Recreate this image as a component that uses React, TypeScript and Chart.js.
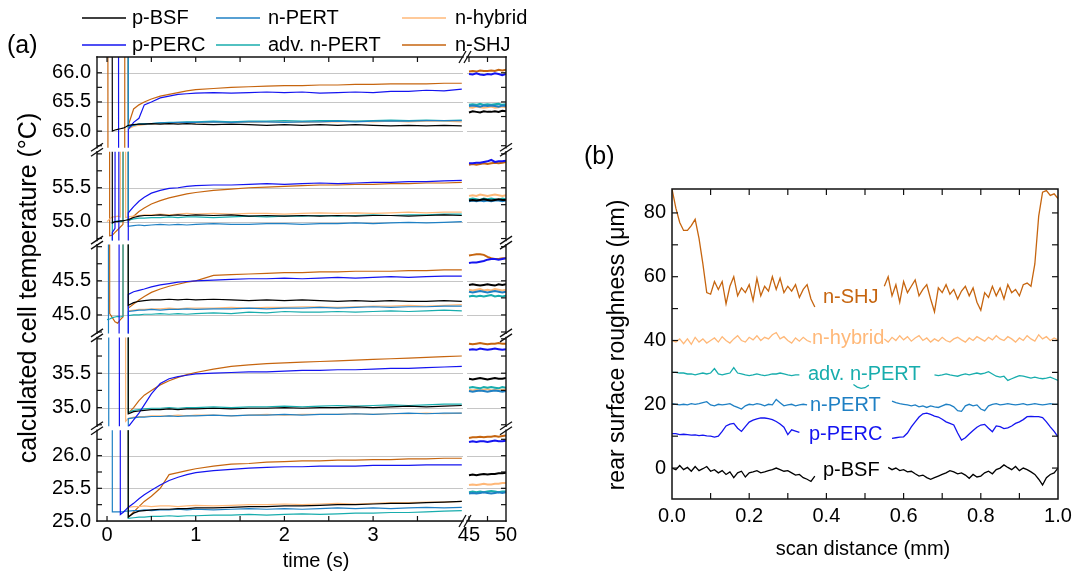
import React, { useEffect, useRef } from "react";
import { Chart, registerables } from "chart.js";

Chart.register(...registerables);

const FONT = '"Liberation Sans", Arial, Helvetica, sans-serif';
const H = 99; // reading above the visible window of a segment
const L = 0; // reading below the visible window of a segment
const N = null;

// ---------------- panel (a): time axes ----------------
const timeFast = [0, 0.03, 0.06, 0.09, 0.12, 0.15, 0.18, 0.21, 0.24,
  0.3, 0.36, 0.42, 0.5, 0.6, 0.7, 0.8, 0.9, 1.0,
  1.2, 1.4, 1.6, 1.8, 2.0, 2.2, 2.4, 2.6, 2.8, 3.0, 3.2, 3.4, 3.6, 3.8, 4.0];
const timeSlow = [45, 45.5, 46, 46.5, 47, 47.5, 48, 48.5, 49, 49.5, 50];

// p-BSF
const bsf65 = [H, H, 65.0, 65.02, 65.03, 65.04, 65.05, 65.07, 65.1,
  65.11, 65.12, 65.12, 65.13, 65.12, 65.13, 65.12, 65.13, 65.12,
  65.11, 65.12, 65.11, 65.1, 65.11, 65.1, 65.11, 65.1, 65.11, 65.1, 65.09, 65.1, 65.09, 65.1, 65.09];
const bsf55 = [H, H, 54.98, 55.0, 55.0, 55.01, 55.01, 55.02, 55.03,
  55.06, 55.08, 55.09, 55.09, 55.1, 55.09, 55.1, 55.09, 55.1,
  55.09, 55.1, 55.08, 55.09, 55.08, 55.09, 55.08, 55.09, 55.08, 55.09, 55.09, 55.08, 55.09, 55.1, 55.09];
const bsf45 = [H, H, H, H, H, H, H, H, 45.14,
  45.18, 45.2, 45.21, 45.22, 45.22, 45.23, 45.22, 45.23, 45.22,
  45.23, 45.22, 45.21, 45.22, 45.21, 45.22, 45.21, 45.2, 45.21, 45.2, 45.21, 45.2, 45.2, 45.21, 45.2];
const bsf35 = [H, H, H, H, H, H, H, H, 34.91,
  34.94, 34.95, 34.96, 34.97, 34.97, 34.98, 34.97, 34.98, 34.98,
  34.99, 34.98, 34.99, 34.99, 35.0, 34.99, 35.0, 35.0, 35.01, 35.0, 35.01, 35.02, 35.01, 35.02, 35.03];
const bsf25 = [H, H, H, H, H, H, H, H, 25.06,
  25.12, 25.15, 25.16, 25.17, 25.18, 25.18, 25.19, 25.19, 25.2,
  25.2, 25.21, 25.22, 25.22, 25.23, 25.23, 25.24, 25.25, 25.25, 25.26, 25.27, 25.27, 25.28, 25.29, 25.3];

// p-PERC
const perc65 = [H, H, H, H, H, L, L, L, 65.03,
  65.15, 65.22, 65.45, 65.5, 65.57, 65.6, 65.63, 65.64, 65.65,
  65.66, 65.65, 65.66, 65.67, 65.66, 65.67, 65.65, 65.66, 65.67, 65.66, 65.68, 65.68, 65.7, 65.69, 65.72];
const perc55 = [L, L, 54.84, 54.9, H, L, L, L, 55.13,
  55.22, 55.3, 55.36, 55.42, 55.46, 55.49, 55.5, 55.52, 55.53,
  55.54, 55.54, 55.55, 55.56, 55.55, 55.56, 55.57, 55.56, 55.57, 55.58, 55.58, 55.59, 55.59, 55.6, 55.61];
const perc45 = [H, H, H, H, H, L, L, L, 45.3,
  45.34, 45.36, 45.38, 45.41, 45.44, 45.46, 45.48, 45.49, 45.5,
  45.51, 45.52, 45.53, 45.53, 45.54, 45.53, 45.54, 45.55, 45.54, 45.55, 45.56, 45.55, 45.56, 45.57, 45.57];
const perc35 = [H, H, H, H, H, L, L, L, 34.72,
  34.82, 34.92, 35.04, 35.2, 35.35, 35.42, 35.45, 35.47, 35.49,
  35.5, 35.51, 35.52, 35.52, 35.53, 35.54, 35.54, 35.55, 35.55, 35.56, 35.57, 35.57, 35.58, 35.59, 35.6];
const perc25 = [H, H, H, H, H, 25.1, 25.13, 25.17, 25.21,
  25.27, 25.34, 25.4, 25.47, 25.55, 25.62, 25.67, 25.71, 25.74,
  25.77, 25.79, 25.81, 25.82, 25.83, 25.83, 25.84, 25.84, 25.84, 25.85, 25.85, 25.85, 25.86, 25.86, 25.86];

// n-PERT
const npert65 = [H, H, H, H, H, H, H, H, 65.08,
  65.1, 65.12, 65.12, 65.13, 65.14, 65.14, 65.15, 65.15, 65.15,
  65.16, 65.15, 65.16, 65.16, 65.15, 65.16, 65.16, 65.17, 65.16, 65.17, 65.17, 65.17, 65.18, 65.18, 65.18];
const npert55 = [H, H, H, H, H, H, H, H, 54.93,
  54.94, 54.95, 54.94, 54.95, 54.96, 54.95, 54.96, 54.95, 54.96,
  54.97, 54.96, 54.96, 54.97, 54.97, 54.96, 54.97, 54.97, 54.98, 54.97, 54.98, 54.99, 54.98, 54.99, 55.0];
const npert45 = [H, L, L, L, L, L, L, L, 45.05,
  45.06, 45.07, 45.07, 45.08, 45.07, 45.08, 45.08, 45.09, 45.08,
  45.09, 45.09, 45.1, 45.09, 45.1, 45.1, 45.11, 45.1, 45.11, 45.12, 45.11, 45.12, 45.12, 45.13, 45.13];
const npert35 = [H, L, L, L, L, L, L, L, 34.84,
  34.85, 34.86, 34.86, 34.87, 34.87, 34.88, 34.87, 34.88, 34.88,
  34.89, 34.88, 34.89, 34.89, 34.9, 34.89, 34.9, 34.9, 34.91, 34.9, 34.91, 34.92, 34.91, 34.92, 34.92];
const npert25 = [H, H, 25.14, 25.14, 25.14, 25.14, 25.14, 25.15, 25.15,
  25.16, 25.16, 25.17, 25.16, 25.17, 25.17, 25.18, 25.17, 25.18,
  25.17, 25.18, 25.19, 25.18, 25.19, 25.18, 25.19, 25.2, 25.19, 25.2, 25.19, 25.2, 25.21, 25.2, 25.21];

// adv. n-PERT
const adv65 = [H, H, H, H, H, H, H, H, 65.06,
  65.1, 65.12, 65.13, 65.13, 65.14, 65.15, 65.15, 65.16, 65.16,
  65.17, 65.16, 65.17, 65.17, 65.18, 65.17, 65.18, 65.18, 65.17, 65.18, 65.19, 65.18, 65.19, 65.18, 65.19];
const adv55 = [L, L, 54.99, 55.0, 55.01, 55.0, 55.01, H, 55.02,
  55.04, 55.05, 55.05, 55.06, 55.06, 55.07, 55.06, 55.07, 55.07,
  55.06, 55.07, 55.08, 55.07, 55.08, 55.08, 55.09, 55.08, 55.09, 55.1, 55.09, 55.1, 55.1, 55.11, 55.11];
const adv45 = [44.93, 44.94, 44.96, 44.97, 44.98, 44.97, 44.98, H, 44.99,
  45.0, 45.0, 45.01, 45.01, 45.02, 45.01, 45.02, 45.01, 45.02,
  45.03, 45.02, 45.04, 45.03, 45.05, 45.04, 45.04, 45.05, 45.04, 45.05, 45.06, 45.05, 45.06, 45.07, 45.06];
const adv35 = [H, H, H, H, H, H, H, H, 34.93,
  34.96, 34.97, 34.98, 34.99, 34.99, 35.0, 34.99, 35.0, 35.0,
  35.01, 35.0, 35.01, 35.01, 35.02, 35.01, 35.02, 35.03, 35.02, 35.03, 35.04, 35.03, 35.04, 35.05, 35.05];
const adv25 = [H, H, H, H, H, H, H, H, 25.04,
  25.05, 25.06, 25.06, 25.07, 25.07, 25.08, 25.07, 25.08, 25.08,
  25.09, 25.09, 25.1, 25.09, 25.1, 25.11, 25.1, 25.11, 25.12, 25.12, 25.13, 25.13, 25.14, 25.15, 25.16];

// n-hybrid
const hyb65 = [H, H, H, H, H, H, H, H, 65.04,
  65.08, 65.1, 65.11, 65.12, 65.13, 65.13, 65.14, 65.14, 65.14,
  65.15, 65.15, 65.15, 65.16, 65.16, 65.15, 65.16, 65.16, 65.17, 65.16, 65.17, 65.16, 65.17, 65.17, 65.16];
const hyb55 = [55.0, 55.04, 55.07, 55.07, 55.08, 55.07, H, 55.06, 55.07,
  55.08, 55.09, 55.1, 55.1, 55.11, 55.1, 55.11, 55.12, 55.11,
  55.12, 55.11, 55.12, 55.12, 55.11, 55.12, 55.13, 55.12, 55.13, 55.12, 55.13, 55.14, 55.13, 55.14, 55.14];
const hyb45 = [H, H, H, H, H, H, H, H, 45.06,
  45.07, 45.08, 45.08, 45.09, 45.09, 45.1, 45.09, 45.1, 45.1,
  45.1, 45.11, 45.1, 45.11, 45.11, 45.12, 45.12, 45.11, 45.12, 45.13, 45.13, 45.14, 45.13, 45.14, 45.15];
const hyb35 = [H, H, H, H, H, H, H, 34.8, 34.84,
  34.86, 34.87, 34.87, 34.88, 34.88, 34.88, 34.89, 34.88, 34.89,
  34.89, 34.88, 34.89, 34.9, 34.89, 34.9, 34.9, 34.9, 34.91, 34.9, 34.91, 34.91, 34.92, 34.91, 34.92];
const hyb25 = [H, H, H, H, H, H, H, H, 25.21,
  25.22, 25.22, 25.23, 25.22, 25.23, 25.23, 25.22, 25.23, 25.24,
  25.23, 25.24, 25.25, 25.25, 25.26, 25.25, 25.26, 25.27, 25.26, 25.27, 25.28, 25.28, 25.29, 25.29, 25.3];

// n-SHJ
const shj65 = [H, L, L, L, L, L, L, H, 65.1,
  65.38, 65.45, 65.5, 65.55, 65.6, 65.63, 65.66, 65.69, 65.71,
  65.73, 65.75, 65.76, 65.77, 65.78, 65.78, 65.79, 65.79, 65.8, 65.8, 65.81, 65.81, 65.81, 65.82, 65.82];
const shj55 = [H, 54.79, 54.8, 54.84, 54.88, 54.92, 54.96, H, 55.0,
  55.08, 55.15, 55.2, 55.26, 55.31, 55.35, 55.38, 55.41, 55.43,
  55.46, 55.48, 55.5, 55.51, 55.52, 55.53, 55.54, 55.54, 55.55, 55.55, 55.56, 55.56, 55.57, 55.57, 55.58];
const shj45 = [H, 45.02, 44.96, 44.9, 44.88, 44.93, 44.97, H, 45.1,
  45.16, 45.22, 45.27, 45.33, 45.38, 45.42, 45.45, 45.48, 45.5,
  45.58, 45.59, 45.6, 45.61, 45.62, 45.62, 45.63, 45.63, 45.64, 45.64, 45.64, 45.65, 45.65, 45.66, 45.66];
const shj35 = [H, H, H, H, H, H, H, H, 34.92,
  35.0, 35.1, 35.18, 35.25, 35.33, 35.39, 35.44, 35.48, 35.51,
  35.56, 35.6, 35.62, 35.64, 35.65, 35.66, 35.67, 35.68, 35.69, 35.7, 35.71, 35.72, 35.73, 35.74, 35.75];
const shj25 = [H, H, H, H, H, H, H, H, 25.06,
  25.14, 25.22, 25.3, 25.38, 25.5, 25.71, 25.74, 25.77, 25.8,
  25.84, 25.87, 25.88, 25.9, 25.91, 25.92, 25.92, 25.93, 25.93, 25.94, 25.94, 25.95, 25.95, 25.96, 25.96];

// late readings, 45 s - 50 s
const bsfR65 = [65.32, 65.34, 65.33, 65.32, 65.34, 65.33, 65.33, 65.34, 65.33, 65.35, 65.34];
const bsfR55 = [55.31, 55.32, 55.31, 55.32, 55.33, 55.32, 55.31, 55.32, 55.33, 55.32, 55.32];
const bsfR45 = [45.44, 45.45, 45.44, 45.43, 45.44, 45.45, 45.44, 45.43, 45.45, 45.44, 45.45];
const bsfR35 = [35.42, 35.41, 35.42, 35.43, 35.42, 35.41, 35.42, 35.43, 35.42, 35.42, 35.43];
const bsfR25 = [25.7, 25.71, 25.7, 25.71, 25.72, 25.71, 25.72, 25.72, 25.73, 25.73, 25.74];
const percR65 = [65.98, 65.97, 65.99, 65.97, 65.96, 65.98, 65.97, 65.99, 65.98, 65.96, 65.98];
const percR55 = [55.86, 55.86, 55.87, 55.87, 55.88, 55.89, 55.91, 55.88, 55.89, 55.89, 55.9];
const percR45 = [45.76, 45.77, 45.77, 45.78, 45.79, 45.81, 45.82, 45.82, 45.81, 45.82, 45.83];
const percR35 = [35.84, 35.85, 35.84, 35.86, 35.85, 35.84, 35.85, 35.86, 35.85, 35.84, 35.85];
const percR25 = [26.21, 26.22, 26.21, 26.22, 26.22, 26.21, 26.22, 26.23, 26.22, 26.22, 26.23];
const npertR65 = [65.43, 65.44, 65.43, 65.42, 65.44, 65.43, 65.44, 65.43, 65.42, 65.44, 65.43];
const npertR55 = [55.3, 55.31, 55.3, 55.31, 55.3, 55.31, 55.3, 55.31, 55.31, 55.3, 55.31];
const npertR45 = [45.34, 45.33, 45.34, 45.35, 45.34, 45.33, 45.34, 45.35, 45.34, 45.33, 45.34];
const npertR35 = [35.24, 35.23, 35.24, 35.25, 35.24, 35.23, 35.24, 35.25, 35.24, 35.23, 35.24];
const npertR25 = [25.42, 25.43, 25.42, 25.43, 25.44, 25.43, 25.42, 25.43, 25.44, 25.43, 25.44];
const advR65 = [65.45, 65.46, 65.45, 65.47, 65.45, 65.46, 65.45, 65.46, 65.47, 65.45, 65.46];
const advR55 = [55.33, 55.34, 55.33, 55.32, 55.34, 55.33, 55.34, 55.33, 55.32, 55.34, 55.33];
const advR45 = [45.27, 45.28, 45.27, 45.28, 45.27, 45.28, 45.29, 45.27, 45.28, 45.27, 45.28];
const advR35 = [35.29, 35.3, 35.29, 35.28, 35.3, 35.29, 35.3, 35.29, 35.28, 35.3, 35.29];
const advR25 = [25.44, 25.45, 25.44, 25.45, 25.44, 25.45, 25.46, 25.45, 25.44, 25.45, 25.45];
const hybR65 = [65.41, 65.4, 65.42, 65.41, 65.4, 65.41, 65.42, 65.4, 65.41, 65.42, 65.41];
const hybR55 = [55.38, 55.39, 55.38, 55.4, 55.39, 55.38, 55.39, 55.4, 55.39, 55.38, 55.39];
const hybR45 = [45.37, 45.36, 45.37, 45.38, 45.36, 45.37, 45.36, 45.38, 45.37, 45.36, 45.37];
const hybR35 = [35.26, 35.25, 35.26, 35.25, 35.26, 35.27, 35.25, 35.26, 35.25, 35.26, 35.26];
const hybR25 = [25.55, 25.56, 25.55, 25.56, 25.57, 25.56, 25.56, 25.57, 25.57, 25.58, 25.58];
const shjR65 = [66.02, 66.03, 66.02, 66.04, 66.03, 66.03, 66.04, 66.03, 66.05, 66.04, 66.05];
const shjR55 = [55.84, 55.85, 55.84, 55.85, 55.86, 55.85, 55.86, 55.87, 55.86, 55.87, 55.88];
const shjR45 = [45.87, 45.88, 45.89, 45.89, 45.88, 45.85, 45.83, 45.82, 45.82, 45.83, 45.83];
const shjR35 = [35.93, 35.92, 35.93, 35.94, 35.93, 35.92, 35.93, 35.93, 35.94, 35.93, 35.93];
const shjR25 = [26.27, 26.28, 26.28, 26.29, 26.28, 26.29, 26.29, 26.3, 26.29, 26.3, 26.31];

// ---------------- panel (b): roughness profiles ----------------
const scanX = [0, 0.01, 0.02, 0.03, 0.04, 0.05, 0.06, 0.07, 0.08, 0.09,
  0.1, 0.11, 0.12, 0.13, 0.14, 0.15, 0.16, 0.17, 0.18, 0.19,
  0.2, 0.21, 0.22, 0.23, 0.24, 0.25, 0.26, 0.27, 0.28, 0.29,
  0.3, 0.31, 0.32, 0.33, 0.34, 0.35, 0.36, 0.37, 0.38, 0.39,
  0.4, 0.41, 0.42, 0.43, 0.44, 0.45, 0.46, 0.47, 0.48, 0.49,
  0.5, 0.51, 0.52, 0.53, 0.54, 0.55, 0.56, 0.57, 0.58, 0.59,
  0.6, 0.61, 0.62, 0.63, 0.64, 0.65, 0.66, 0.67, 0.68, 0.69,
  0.7, 0.71, 0.72, 0.73, 0.74, 0.75, 0.76, 0.77, 0.78, 0.79,
  0.8, 0.81, 0.82, 0.83, 0.84, 0.85, 0.86, 0.87, 0.88, 0.89,
  0.9, 0.91, 0.92, 0.93, 0.94, 0.95, 0.96, 0.97, 0.98, 0.99,
  1.0];
const roughSHJ = [87.5, 81.5, 77, 74.5, 74.5, 76, 78, 72, 64, 55,
  54.5, 58.5, 56, 58.5, 51.5, 57, 60, 54, 56.5, 55,
  57.5, 52.5, 59.5, 54, 57, 55.5, 60, 56, 59.5, 55,
  57, 55.5, 57.5, 53.5, 56, 57.5, 53, 50.5, N, N,
  N, N, N, N, N, N, N, N, N, N,
  N, N, N, N, N, 57, 60, 54, 57.5, 52,
  58.5, 55, 57, 59, 54, 56, 57.5, 53, 49, 56.5,
  55, 57.5, 54.5, 56, 53, 55.5, 57, 54, 56.5, 52,
  49.5, 55, 53.5, 57, 54, 56.5, 53, 57.5, 55, 56,
  54, 57.5, 58, 57, 64, 79, 86.5, 87, 85.5, 86,
  84.5];
const roughHybrid = [40, 39.5, 40.5, 39, 40.5, 38.8, 41, 39.5, 40.5, 39.2,
  40, 40.8, 39.5, 41.2, 40, 39.2, 40.5, 41.5, 40, 39.5,
  41, 40.2, 41.5, 40, 41, 40.5, 41.8, 42.5, 40.5, 41.2,
  40, 39.2, 40.8, 39.8, 41, 40, 39.5, N, N, N,
  N, N, N, N, N, N, N, N, N, N,
  N, N, N, N, N, 40.5, 39.5, 41, 40, 41.5,
  40.2, 41.2, 39.8, 40.8, 41.5, 40, 40.8, 39.5, 40.5, 39.8,
  41, 40, 39.5, 40.5, 41, 40.2, 39.5, 40.8, 40, 41.2,
  40.5, 39.8, 41, 40.2, 41.5, 40.5, 40, 41.2, 40.5, 39.5,
  40.8, 40, 41.5, 40.5, 39.8, 41.8, 40.5, 41.2, 40, 40.8,
  40.2];
const roughAdvPERT = [30, 30, 29.8, 29.8, 29.5, 29.5, 29.2, 29.5, 29.8, 29.5,
  29.8, 31.2, 29.5, 29.2, 29.5, 29.8, 31.5, 29.8, 29.5, 29.2,
  29, 29.2, 29.5, 29.2, 29, 29.2, 29.5, 29.5, 29.8, 29.5,
  29.2, 29, 29.2, 29.2, N, N, N, N, N, N,
  N, N, N, N, N, N, N, 26.2, 25.4, 25,
  25.2, 26, N, N, N, N, N, N, N, N,
  N, N, N, N, N, N, N, N, 29.2, 29,
  29.2, 29.5, 29.2, 29, 28.8, 29.2, 29.5, 29.2, 29.5, 29.8,
  29.5, 29.8, 30.2, 29.5, 28.8, 28.5, 28.8, 27.5, 28, 28.5,
  29, 28.8, 28.5, 28.2, 28.5, 28.2, 28, 28.2, 28.5, 28,
  27.5];
const roughPERT = [20.2, 20, 19.8, 20, 19.8, 20.2, 20, 20.2, 20.5, 20.8,
  19.8, 19.5, 20, 19.8, 20, 20.2, 19.5, 19, 18.5, 19.5,
  20, 19.8, 20.2, 20, 19.5, 20, 19.8, 21.5, 20.5, 19.5,
  19.8, 20, 19.5, 19.8, 20, 19.8, N, N, N, N,
  N, N, N, N, N, N, N, N, N, N,
  N, N, N, N, N, N, N, 21, 20.5, 20.2,
  20, 19.8, 19.5, 19.8, 19.2, 19.5, 19, 19.5, 19.2, 19,
  19.5, 20, 19.8, 19.2, 18, 17.8, 19.5, 20, 19.5, 19.8,
  18.5, 18, 19.5, 20, 20.2, 19.8, 20, 20.2, 20, 19.8,
  20, 20.2, 19.8, 20, 20.2, 20, 19.8, 20, 20.2, 20,
  20];
const roughPERC = [10.8, 10.8, 10.5, 10.6, 10.5, 10.3, 10.4, 10.2, 10.3, 10.1,
  10, 9.7, 10, 11.5, 13.2, 13.8, 14, 12.5, 11.5, 13,
  14.4, 15, 15.4, 15.7, 15.7, 15.5, 15.2, 14.6, 13.8, 12.8,
  10.5, 12, 11.6, 11.2, N, N, N, N, N, N,
  N, N, N, N, N, N, N, N, N, N,
  N, N, N, N, N, N, N, 9.3, 9.5, 9.7,
  9.8, 11, 12.9, 14.5, 16, 17, 17.2, 16.8, 16.3, 16,
  15.3, 14.5, 14, 13.5, 11, 8.8, 9.5, 10.7, 11.8, 12.8,
  13.5, 13.7, 12.5, 11.4, 13.2, 13, 12.4, 12.6, 13.2, 14,
  14.5, 15.2, 16.1, 16.2, 16.1, 16.1, 15.8, 14.5, 12.9, 11.5,
  9.8];
const roughBSF = [0, -0.5, 0.8, -0.5, 0.2, -1, 0.5, -0.8, -0.2, 0.5,
  -1, -0.5, -1.5, -0.8, -2, -1.2, -3, -1.5, -1, -2.8,
  -1.5, -1.2, -0.8, -1.5, -1.2, -0.8, -0.5, 0, -0.5, -1,
  -0.8, -1.5, -2.2, -2, -3, -3.5, -4.2, -2.5, N, N,
  N, N, N, N, N, N, N, N, N, N,
  N, N, N, N, N, N, 0.2, -0.5, 0, -0.8,
  -0.5, -1.2, -1, -1.8, -2.5, -2.2, -3, -3.5, -3, -2.5,
  -2, -1.5, -0.8, -1.2, -1.8, -1.5, -2.2, -3.2, -2, -2.8,
  -2.5, -1.5, -1, -1.8, -0.5, 0, 1, 0.2, -0.5, 0.5,
  -0.8, 0, -0.5, -1.2, -2, -3.5, -5.3, -3, -2, -1.5,
  0];

// ---------------- series / axes ----------------
const SERIES = ["p-BSF", "p-PERC", "n-PERT", "adv. n-PERT", "n-hybrid", "n-SHJ"];
const COLORS = ["#000000", "#1414f0", "#1f80c4", "#18adad", "#ffb878", "#c6650f"];

const fastTraces = [
  [bsf65, bsf55, bsf45, bsf35, bsf25],
  [perc65, perc55, perc45, perc35, perc25],
  [npert65, npert55, npert45, npert35, npert25],
  [adv65, adv55, adv45, adv35, adv25],
  [hyb65, hyb55, hyb45, hyb35, hyb25],
  [shj65, shj55, shj45, shj35, shj25],
];
const slowTraces = [
  [bsfR65, bsfR55, bsfR45, bsfR35, bsfR25],
  [percR65, percR55, percR45, percR35, percR25],
  [npertR65, npertR55, npertR45, npertR35, npertR25],
  [advR65, advR55, advR45, advR35, advR25],
  [hybR65, hybR55, hybR45, hybR35, hybR25],
  [shjR65, shjR55, shjR45, shjR35, shjR25],
];
const roughTraces = [roughBSF, roughPERC, roughPERT, roughAdvPERT, roughHybrid, roughSHJ];

const segIds = ["y1", "y2", "y3", "y4", "y5"];
const segMin = [64.68, 54.69, 44.7, 34.7, 25.0];
const segMax = [66.27, 56.06, 46.06, 36.05, 26.42];
const segTickLabels = [[65.0, 65.5, 66.0], [55.0, 55.5], [45.0, 45.5], [35.0, 35.5], [25.0, 25.5, 26.0]];
const fastTickLabels = [0, 1, 2, 3];
const fastMinorTicks = [0.5, 1.5, 2.5, 3.5];
const slowTickLabels = [45, 50];
const slowMinorTicks = [47.5];
const scanTickLabels = [0, 0.2, 0.4, 0.6, 0.8, 1.0];
const scanMinorTicks = [0.1, 0.3, 0.5, 0.7, 0.9];
const roughTickLabels = [0, 20, 40, 60, 80];
const roughMinorTicks = [10, 30, 50, 70];

// legend of panel (a): [series index, column, row]
const legendA = [[0, 0, 0], [2, 1, 0], [4, 2, 0], [1, 0, 1], [3, 1, 1], [5, 2, 1]];
const legendLineX = [82, 216, 402];
const legendTextX = [132, 268, 455];
const legendRowY = [18, 45];

// inline labels of panel (b) (canvas coordinates)
const labelsB = [
  { s: 5, x: 283, y: 297 },
  { s: 4, x: 272, y: 338 },
  { s: 3, x: 268, y: 374 },
  { s: 2, x: 270, y: 405 },
  { s: 1, x: 269, y: 434 },
  { s: 0, x: 283, y: 470 },
];

// ---------------- helpers / plugins ----------------
function seg(ctx: CanvasRenderingContext2D, ax: number, ay: number, bx: number, by: number) {
  ctx.beginPath();
  ctx.moveTo(ax, ay);
  ctx.lineTo(bx, by);
  ctx.stroke();
}

const hiddenAxis = () => ({
  ticks: { display: false },
  grid: { display: false },
  border: { display: false },
  title: { display: false },
});

const segmentClip = {
  id: "segmentClip",
  beforeDatasetDraw(chart: any, args: any) {
    const meta = args.meta;
    const xs = chart.scales[meta.xAxisID];
    const ys = chart.scales[meta.yAxisID];
    const ca = chart.chartArea;
    const gap = 2;
    const top = ys.top <= ca.top + 0.5 ? ys.top : ys.top + gap;
    const bottom = ys.bottom >= ca.bottom - 0.5 ? ys.bottom : ys.bottom - gap;
    const ctx = chart.ctx;
    ctx.save();
    ctx.beginPath();
    ctx.rect(xs.left, top, xs.right - xs.left, bottom - top);
    ctx.clip();
  },
  afterDatasetDraw(chart: any) {
    chart.ctx.restore();
  },
};

const panelAFrame = {
  id: "panelAFrame",
  beforeDatasetsDraw(chart: any) {
    const ctx = chart.ctx as CanvasRenderingContext2D;
    const x1 = chart.scales.x1;
    const x2 = chart.scales.x2;
    ctx.save();
    ctx.strokeStyle = "#c6c6c6";
    ctx.lineWidth = 1;
    segIds.forEach((id, k) => {
      const s = chart.scales[id];
      segTickLabels[k].forEach((v) => {
        const y = Math.round(s.getPixelForValue(v)) + 0.5;
        seg(ctx, x1.left, y, x1.right - 2, y);
        seg(ctx, x2.left + 2, y, x2.right, y);
      });
    });
    ctx.restore();
  },
  afterDraw(chart: any) {
    const ctx = chart.ctx as CanvasRenderingContext2D;
    const ca = chart.chartArea;
    const x1 = chart.scales.x1;
    const x2 = chart.scales.x2;
    const segs = segIds.map((id) => chart.scales[id]);
    const gap = 2;
    ctx.save();
    ctx.strokeStyle = "#111";
    ctx.lineWidth = 1.4;
    ctx.lineCap = "square";
    segs.forEach((s, i) => {
      const top = i === 0 ? s.top : s.top + gap;
      const bot = i === segs.length - 1 ? s.bottom : s.bottom - gap;
      seg(ctx, ca.left, top, ca.left, bot);
      seg(ctx, ca.right, top, ca.right, bot);
    });
    [ca.top, ca.bottom].forEach((y) => {
      seg(ctx, x1.left, y, x1.right - gap, y);
      seg(ctx, x2.left + gap, y, x2.right, y);
    });
    ctx.lineCap = "butt";
    ctx.lineWidth = 1.2;
    const tk = 5;
    segs.forEach((s) => {
      for (let v = Math.ceil(s.min * 4) / 4; v <= s.max + 1e-9; v += 0.25) {
        const y = s.getPixelForValue(v);
        if (y < s.top + 3 || y > s.bottom - 3) continue;
        seg(ctx, ca.left, y, ca.left + tk, y);
        seg(ctx, ca.right, y, ca.right - tk, y);
      }
    });
    const xTick = (s: any, v: number) => {
      const x = s.getPixelForValue(v);
      if (x < s.left + 2 || x > s.right - 2) return;
      seg(ctx, x, ca.bottom, x, ca.bottom - tk);
      seg(ctx, x, ca.top, x, ca.top + tk);
    };
    fastTickLabels.concat(fastMinorTicks).forEach((v) => xTick(x1, v));
    slowTickLabels.concat(slowMinorTicks).forEach((v) => xTick(x2, v));
    // break marks
    ctx.lineWidth = 1.3;
    segs.slice(0, -1).forEach((s) => {
      const yb = s.bottom;
      [ca.left, ca.right].forEach((x) => {
        [-2.5, 2.5].forEach((d) => seg(ctx, x - 6, yb + d + 4, x + 6, yb + d - 4));
      });
    });
    const xb = x1.right;
    [ca.top, ca.bottom].forEach((y) => {
      [-2.5, 2.5].forEach((d) => seg(ctx, xb + d - 3.5, y + 6, xb + d + 3.5, y - 6));
    });
    // tick labels
    ctx.fillStyle = "#000";
    ctx.font = `20px ${FONT}`;
    ctx.textAlign = "right";
    ctx.textBaseline = "middle";
    segs.forEach((s, k) => {
      segTickLabels[k].forEach((v) => ctx.fillText(v.toFixed(1), ca.left - 6, s.getPixelForValue(v)));
    });
    ctx.textAlign = "center";
    fastTickLabels.forEach((v) => ctx.fillText(String(v), x1.getPixelForValue(v), ca.bottom + 14));
    slowTickLabels.forEach((v) => ctx.fillText(String(v), x2.getPixelForValue(v), ca.bottom + 14));
    // titles
    ctx.fillText("time (s)", 316, 561);
    ctx.save();
    ctx.translate(29, 288);
    ctx.rotate(-Math.PI / 2);
    ctx.font = `25px ${FONT}`;
    ctx.fillText("calculated cell temperature (\u00b0C)", 0, 0);
    ctx.restore();
    ctx.font = `25px ${FONT}`;
    ctx.textAlign = "left";
    ctx.fillText("(a)", 7, 46);
    // legend
    ctx.font = `20px ${FONT}`;
    legendA.forEach(([s, col, row]) => {
      const y = legendRowY[row];
      ctx.strokeStyle = COLORS[s];
      ctx.lineWidth = 1.6;
      seg(ctx, legendLineX[col], y, legendLineX[col] + 44, y);
      ctx.fillStyle = "#000";
      ctx.fillText(SERIES[s], legendTextX[col], y);
    });
    ctx.restore();
  },
};

const panelBFrame = {
  id: "panelBFrame",
  afterDraw(chart: any) {
    const ctx = chart.ctx as CanvasRenderingContext2D;
    const ca = chart.chartArea;
    const xs = chart.scales.x;
    const ys = chart.scales.y;
    ctx.save();
    ctx.strokeStyle = "#111";
    ctx.lineWidth = 1.5;
    ctx.strokeRect(ca.left, ca.top, ca.right - ca.left, ca.bottom - ca.top);
    ctx.lineWidth = 1.2;
    const tk = 6;
    scanTickLabels.concat(scanMinorTicks).forEach((v) => {
      const x = xs.getPixelForValue(v);
      if (x < ca.left + 2 || x > ca.right - 2) return;
      seg(ctx, x, ca.bottom, x, ca.bottom - tk);
      seg(ctx, x, ca.top, x, ca.top + tk);
    });
    roughTickLabels.concat(roughMinorTicks).forEach((v) => {
      const y = ys.getPixelForValue(v);
      seg(ctx, ca.left, y, ca.left + tk, y);
      seg(ctx, ca.right, y, ca.right - tk, y);
    });
    ctx.fillStyle = "#000";
    ctx.font = `20px ${FONT}`;
    ctx.textBaseline = "middle";
    ctx.textAlign = "right";
    roughTickLabels.forEach((v) => ctx.fillText(String(v), ca.left - 6, ys.getPixelForValue(v)));
    ctx.textAlign = "center";
    scanTickLabels.forEach((v) => ctx.fillText(v.toFixed(1), xs.getPixelForValue(v), ca.bottom + 17));
    ctx.fillText("scan distance (mm)", 323, 549);
    ctx.save();
    ctx.translate(78, 345);
    ctx.rotate(-Math.PI / 2);
    ctx.font = `23px ${FONT}`;
    ctx.fillText("rear surface roughness (\u03bcm)", 0, 0);
    ctx.restore();
    ctx.textAlign = "left";
    ctx.font = `25px ${FONT}`;
    ctx.fillText("(b)", 44, 157);
    ctx.font = `20px ${FONT}`;
    labelsB.forEach((l) => {
      ctx.fillStyle = COLORS[l.s];
      ctx.fillText(SERIES[l.s], l.x, l.y);
    });
    ctx.restore();
  },
};

function buildPanelA(): any {
  const datasets: any[] = [];
  SERIES.forEach((name, s) => {
    segIds.forEach((id, k) => {
      datasets.push({
        label: name,
        data: timeFast.map((t, i) => ({ x: t, y: fastTraces[s][k][i] })),
        xAxisID: "x1",
        yAxisID: id,
        borderColor: COLORS[s],
        borderWidth: 1.2,
        pointRadius: 0,
        tension: 0,
        fill: false,
      });
      datasets.push({
        label: name,
        data: timeSlow.map((t, i) => ({ x: t, y: slowTraces[s][k][i] })),
        xAxisID: "x2",
        yAxisID: id,
        borderColor: COLORS[s],
        borderWidth: 2,
        pointRadius: 0,
        tension: 0,
        fill: false,
      });
    });
  });
  const scales: any = {
    x1: {
      type: "linear", axis: "x", position: "bottom", stack: "time", stackWeight: 368, weight: 0,
      min: -0.113, max: 4.036, ...hiddenAxis(),
      afterFit: (s: any) => { s.height = 0; },
    },
    x2: {
      type: "linear", axis: "x", position: "bottom", stack: "time", stackWeight: 41, weight: 1,
      min: 44.46, max: 50, ...hiddenAxis(),
      afterFit: (s: any) => { s.height = 0; },
    },
  };
  segIds.forEach((id, k) => {
    scales[id] = {
      type: "linear", axis: "y", position: "left", stack: "temp", stackWeight: 1, weight: 5 - k,
      min: segMin[k], max: segMax[k], ...hiddenAxis(),
      afterFit: (s: any) => { s.width = 0; },
    };
  });
  return {
    type: "line",
    data: { datasets },
    options: {
      responsive: false,
      animation: false,
      events: [],
      layout: { padding: { left: 97, right: 34, top: 57, bottom: 55 } },
      plugins: { legend: { display: false }, tooltip: { enabled: false } },
      scales,
    },
    plugins: [segmentClip, panelAFrame],
  };
}

function buildPanelB(): any {
  const datasets = roughTraces.map((arr, s) => ({
    label: SERIES[s],
    data: scanX.map((x, i) => ({ x, y: arr[i] })),
    borderColor: COLORS[s],
    borderWidth: 1.3,
    pointRadius: 0,
    tension: 0,
    fill: false,
  }));
  return {
    type: "line",
    data: { datasets },
    options: {
      responsive: false,
      animation: false,
      events: [],
      layout: { padding: { left: 132, right: 17, top: 189, bottom: 77 } },
      plugins: { legend: { display: false }, tooltip: { enabled: false } },
      scales: {
        x: { type: "linear", min: 0, max: 1, ...hiddenAxis(), afterFit: (s: any) => { s.height = 0; } },
        y: { type: "linear", min: -9.7, max: 87.5, ...hiddenAxis(), afterFit: (s: any) => { s.width = 0; } },
      },
    },
    plugins: [panelBFrame],
  };
}

function ChartCanvas({ build, left, width }: { build: () => any; left: number; width: number }) {
  const ref = useRef<HTMLCanvasElement | null>(null);
  useEffect(() => {
    if (!ref.current) return;
    const chart = new Chart(ref.current, build());
    return () => chart.destroy();
  }, [build]);
  return (
    <canvas
      ref={ref}
      width={width}
      height={576}
      style={{ position: "absolute", left, top: 0, width, height: 576 }}
    />
  );
}

export default function App() {
  return (
    <div style={{ position: "fixed", left: 0, top: 0, width: 1075, height: 576, background: "#fff", overflow: "hidden" }}>
      <ChartCanvas build={buildPanelA} left={0} width={540} />
      <ChartCanvas build={buildPanelB} left={540} width={535} />
    </div>
  );
}
